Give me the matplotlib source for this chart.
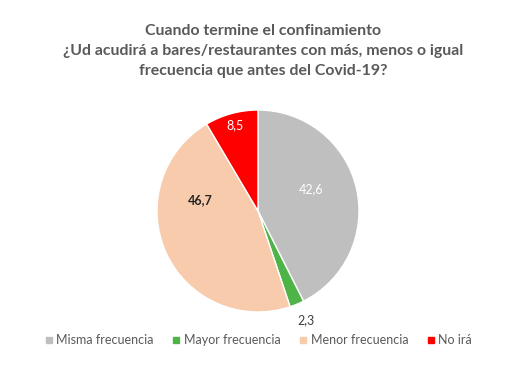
import numpy as np
import matplotlib
matplotlib.use("Agg")
import matplotlib.pyplot as plt
from matplotlib.lines import Line2D

plt.rcParams['font.family'] = ['Lato', 'DejaVu Sans']

# data
categorias = ['Misma frecuencia', 'Mayor frecuencia', 'Menor frecuencia', 'No irá']
valores = [42.6, 2.3, 46.7, 8.5]
colores = ['#BFBFBF', '#4EB447', '#F8CBAD', '#FF0000']
titulo = ('Cuando termine el confinamiento\n'
          '¿Ud acudirá a bares/restaurantes con más, menos o igual\n'
          'frecuencia que antes del Covid-19?')

fig = plt.figure(figsize=(5.23, 3.65), dpi=100)
fig.patch.set_facecolor('white')

# pie axes placed in pixels
cx, cy, r = 258, 211, 101
ax = fig.add_axes([(cx - r) / 523, (365 - cy - r) / 365, 2 * r / 523, 2 * r / 365])
wedges, _ = ax.pie(valores, colors=colores, startangle=90, counterclock=False,
                   radius=1, wedgeprops=dict(edgecolor='white', linewidth=1.0))
ax.set_xlim(-1, 1)
ax.set_ylim(-1, 1)
ax.set_aspect('auto')
ax.axis('off')

# label placement: (radius, angle shift in deg, color, weight)
lbl_style = [
    (0.57, 9, 'white', 'normal'),
    (1.18, 1, '#404040', 'normal'),
    (0.58, -35, '#262626', 'bold'),
    (0.88, 0, 'white', 'normal'),
]
for w, v, (rr, da, col, fw) in zip(wedges, valores, lbl_style):
    ang = np.deg2rad((w.theta1 + w.theta2) / 2 + da)
    ax.text(rr * np.cos(ang), rr * np.sin(ang), f'{v:.1f}'.replace('.', ','),
            ha='center', va='center', fontsize=9, color=col, fontweight=fw)

fig.text(0.503, 1 - 51 / 365, titulo, ha='center', va='center', fontsize=11.4,
         fontweight='bold', color='#595959', linespacing=1.55)

handles = [Line2D([], [], marker='s', linestyle='none', markersize=5,
                  markerfacecolor=c, markeredgecolor=c) for c in colores]
fig.legend(handles, categorias, loc='center', bbox_to_anchor=(0.492, 1 - 340 / 365),
           ncol=4, frameon=False, fontsize=9, handletextpad=0.1, columnspacing=1.3,
           labelcolor='#595959', handlelength=1)

fig.savefig('out.png', dpi=100, facecolor='white')
